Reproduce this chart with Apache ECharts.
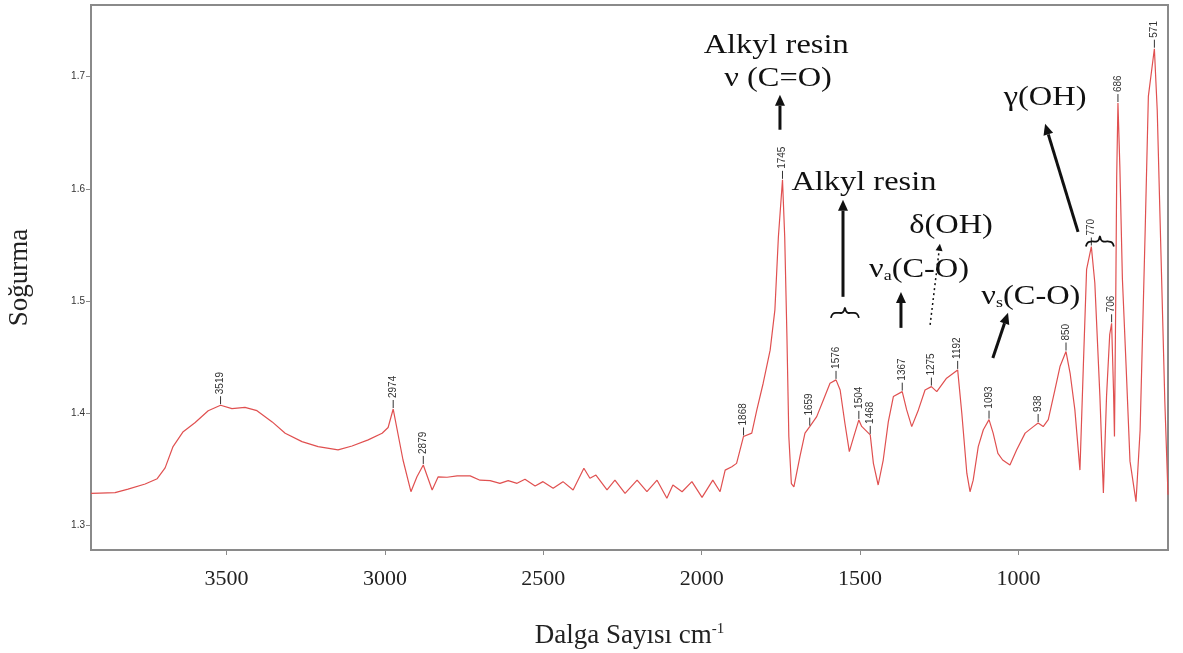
<!DOCTYPE html>
<html><head><meta charset="utf-8">
<script src="https://cdn.jsdelivr.net/npm/echarts@6/dist/echarts.min.js"></script>
<style>html,body{margin:0;padding:0;background:#fff}#c{width:1183px;height:653px}</style>
</head><body><div id="c"></div>
<script>
// Spectrum (wavenumber cm-1, absorbance)
const wavenumbers = [3928,3900,3852,3811,3757,3719,3694,3669,3637,3600,
 3558,3519,3483,3442,3404,3356,3315,3262,3211,3148,
 3104,3053,3009,2990,2974,2943,2918,2899,2879,2851,
 2832,2804,2772,2731,2700,2668,2637,2611,2583,2558,
 2526,2501,2469,2438,2406,2372,2353,2334,2299,2274,
 2242,2204,2173,2141,2110,2091,2062,2031,1999,1965,
 1942,1926,1905,1890,1880,1868,1842,1826,1806,1784,
 1769,1758,1745,1738,1731,1725,1717,1709,1690,1674,
 1659,1637,1616,1595,1576,1563,1548,1534,1521,1504,
 1495,1468,1458,1443,1427,1411,1395,1367,1353,1337,
 1316,1295,1275,1258,1227,1192,1179,1163,1153,1143,
 1127,1111,1093,1080,1065,1050,1027,1006,979,953,
 938,922,906,885,869,850,837,822,806,795,
 785,770,759,743,732,722,712,706,700,697,
 693,690,686,680,672,660,648,629,616,600,
 590,571,562,550,538,528];
const absorbance = [1.3283,1.3285,1.3289,1.332,1.3366,1.3413,1.351,1.370,1.3833,1.3913,
 1.402,1.4069,1.4038,1.405,1.402,1.392,1.3819,1.3744,1.370,1.367,
 1.3705,1.376,1.3819,1.387,1.4035,1.358,1.3297,1.343,1.3536,1.3313,
 1.343,1.3426,1.3438,1.3438,1.340,1.3396,1.3372,1.3396,1.3372,1.3408,
 1.3348,1.3387,1.3327,1.3387,1.3313,1.3506,1.3417,1.3446,1.3313,1.340,
 1.3283,1.340,1.3297,1.340,1.3238,1.3357,1.3297,1.3387,1.3247,1.340,
 1.3297,1.349,1.352,1.355,1.366,1.379,1.382,1.4027,1.4265,1.456,
 1.492,1.557,1.608,1.557,1.468,1.379,1.337,1.334,1.361,1.382,
 1.3878,1.3967,1.4116,1.4265,1.4295,1.4205,1.3908,1.3655,1.378,1.3938,
 1.388,1.3804,1.355,1.3357,1.358,1.392,1.4146,1.419,1.4027,1.3878,
 1.4027,1.4205,1.4235,1.419,1.431,1.4384,1.400,1.346,1.3297,1.340,
 1.370,1.385,1.394,1.382,1.364,1.358,1.3536,1.367,1.382,1.3878,
 1.391,1.3878,1.394,1.4205,1.4414,1.4548,1.4354,1.4027,1.349,1.444,
 1.528,1.5485,1.516,1.415,1.3285,1.415,1.47,1.480,1.42,1.379,
 1.50,1.61,1.6765,1.62,1.52,1.44,1.357,1.3208,1.3848,1.5634,
 1.6824,1.725,1.67,1.54,1.41,1.327];

// Peak picks (labels = wavenumbers)
const peakWavenumbers = [3519,2974,2879,1868,1745,1659,1576,1504,1468,1367,1275,1192,1093,938,850,770,706,686,571];

// Axis ticks
const xTicks = [3500,3000,2500,2000,1500,1000];
const yTicks = [1.3,1.4,1.5,1.6,1.7];

// Annotations (anchors in data units: [wavenumber, absorbance])
const annotationTexts = ['Alkyl resin','ν (C=O)','Alkyl resin','δ(OH)','ν{s|a}(C-O)','ν{s|s}(C-O)','γ(OH)'];
const annotationAnchors = [[1765,1.7277],[1759,1.6982],[1488,1.6054],[1213,1.567],[1314,1.5277],[961,1.5036],[916,1.6813]];
const arrowSegments = [[[1753,1.6527],[1753,1.6839]],[[1554,1.5036],[1554,1.5902]],[[1371,1.4759],[1371,1.508]],[[1081,1.4491],[1033,1.4893]],[[812,1.5616],[916,1.658]]];
const dottedArrow = [[1279,1.4786],[1248,1.5509]];
const braceAnchors = [[1548,1.4893],[743,1.553]];

const spectrum = wavenumbers.map((w,i)=>[w,absorbance[i]]);
const peakData = peakWavenumbers.map(w=>[w, absorbance[wavenumbers.indexOf(w)]]);

const chart = echarts.init(document.getElementById('c'), null, {renderer:'canvas'});
const serif = '"Liberation Serif","Times New Roman",serif';
const option = {
  animation:false,
  backgroundColor:'#fff',
  grid:{left:91,right:15,top:5,bottom:103,show:true,borderColor:'#8a8a8a',borderWidth:2,containLabel:false,outerBoundsMode:'none'},
  xAxis:{type:'value',inverse:true,min:528,max:3928,
    axisLine:{show:true,onZero:false,lineStyle:{color:'#8a8a8a',width:2}},
    axisTick:{show:true,customValues:xTicks,length:5,lineStyle:{color:'#8a8a8a'}},
    axisLabel:{customValues:xTicks,formatter:v=>String(v),fontFamily:serif,fontSize:22,color:'#222',margin:18},
    splitLine:{show:false},
    name:'Dalga Sayısı cm{sup|-1}',nameLocation:'middle',nameGap:72,
    nameTextStyle:{fontFamily:serif,fontSize:27,color:'#222',rich:{sup:{fontFamily:serif,fontSize:15,color:'#222',verticalAlign:'top',padding:[0,0,10,0]}}}
  },
  yAxis:{type:'value',min:1.2777,max:1.764,
    axisLine:{show:true,onZero:false,lineStyle:{color:'#8a8a8a',width:2}},
    axisTick:{show:true,customValues:yTicks,length:5,lineStyle:{color:'#8a8a8a'}},
    axisLabel:{customValues:yTicks,formatter:v=>v.toFixed(1),fontFamily:'"Liberation Sans",Arial,sans-serif',fontSize:10,color:'#333',margin:6},
    splitLine:{show:false},
    name:'Soğurma',nameLocation:'middle',nameGap:58,nameRotate:90,
    nameTextStyle:{fontFamily:serif,fontSize:27,color:'#222'}
  },
  series:[
    {type:'line',data:spectrum,showSymbol:false,symbol:'none',lineStyle:{color:'#e05050',width:1.2},z:3},
    {type:'custom',data:peakData,encode:{x:0,y:1},z:5,silent:true,clip:false,
     renderItem:(params,api)=>{
       const p = api.coord([api.value(0),api.value(1)]);
       const lbl = String(peakWavenumbers[params.dataIndex]);
       return {type:'group',children:[
         {type:'line',shape:{x1:p[0],y1:p[1]-1,x2:p[0],y2:p[1]-9},style:{stroke:'#333',lineWidth:1}},
         {type:'text',x:p[0],y:p[1]-11,rotation:Math.PI/2,style:{text:lbl,fill:'#333',font:'10px "Liberation Sans",Arial,sans-serif',align:'left',verticalAlign:'middle'}}
       ]};
     }}
  ]
};
chart.setOption(option);

function px(d){return chart.convertToPixel({gridIndex:0},d);}
function arrowEls(a,b,opts){
  const p1=px(a),p2=px(b);
  const dx=p2[0]-p1[0],dy=p2[1]-p1[1],L=Math.hypot(dx,dy),ux=dx/L,uy=dy/L;
  const hl=opts.head||11,hw=opts.hw||5;
  const bx=p2[0]-ux*hl,by=p2[1]-uy*hl;
  const els=[{type:'line',shape:{x1:p1[0],y1:p1[1],x2:bx,y2:by},style:{stroke:'#111',lineWidth:opts.w||3,lineDash:opts.dash||null},z:10}];
  els.push({type:'polygon',shape:{points:[[p2[0],p2[1]],[bx-uy*hw,by+ux*hw],[bx+uy*hw,by-ux*hw]]},style:{fill:'#111'},z:10});
  return els;
}
const g=[];
annotationTexts.forEach((t,i)=>{
  const p=px(annotationAnchors[i]);
  g.push({type:'text',x:p[0],y:p[1],scaleX:1.2,z:10,style:{text:t,fill:'#111',font:'27px '+serif,align:'center',verticalAlign:'middle',
    rich:{s:{fontSize:15,fontFamily:serif,fill:'#111',verticalAlign:'bottom',padding:[10,0,0,0]}}}});
});
arrowSegments.forEach(s=>arrowEls(s[0],s[1],{w:3}).forEach(e=>g.push(e)));
arrowEls(dottedArrow[0],dottedArrow[1],{w:1.5,dash:[2,3],head:7,hw:3.5}).forEach(e=>g.push(e));
braceAnchors.forEach(b=>{
  const p=px(b),x=p[0],y=p[1];
  g.push({type:'polyline',z:10,shape:{smooth:0.4,points:[[x-14,y+5],[x-12,y+1],[x-8,y],[x-3,y],[x-1,y-2],[x,y-5],[x+1,y-2],[x+3,y],[x+8,y],[x+12,y+1],[x+14,y+5]]},style:{stroke:'#111',lineWidth:1.8,fill:null}});
});
chart.setOption({graphic:{elements:g}});
</script>
</body></html>
